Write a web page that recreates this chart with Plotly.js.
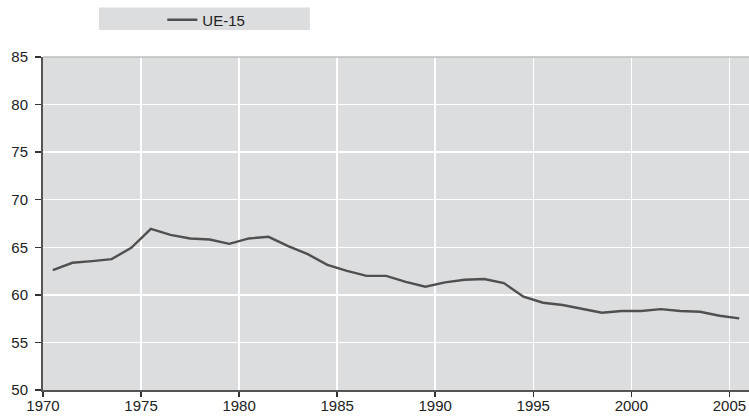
<!DOCTYPE html>
<html>
<head>
<meta charset="utf-8">
<script src="https://cdn.plot.ly/plotly-3.0.1.min.js"></script>
<style>
  html, body { margin: 0; padding: 0; background: #fff; }
  #chart { width: 749px; height: 417px; }
</style>
</head>
<body>
<div id="chart"></div>
<script>
// UE-15 series, one point per year (drawn at mid-year)
const years = [
  1970, 1971, 1972, 1973, 1974, 1975, 1976, 1977, 1978, 1979,
  1980, 1981, 1982, 1983, 1984, 1985, 1986, 1987, 1988, 1989,
  1990, 1991, 1992, 1993, 1994, 1995, 1996, 1997, 1998, 1999,
  2000, 2001, 2002, 2003, 2004, 2005
];
const ue15 = [
  62.6, 63.37, 63.55, 63.76, 64.94, 66.94, 66.31, 65.93, 65.82, 65.36,
  65.93, 66.1, 65.12, 64.28, 63.16, 62.53, 62.0, 62.0, 61.37, 60.85,
  61.31, 61.58, 61.66, 61.24, 59.8, 59.17, 58.93, 58.5, 58.12, 58.3,
  58.3, 58.5, 58.3, 58.22, 57.8, 57.53
];
const seriesName = 'UE-15';
const yTicks = [50, 55, 60, 65, 70, 75, 80, 85];
const xTicks = [1970, 1975, 1980, 1985, 1990, 1995, 2000, 2005];

const fontFamily = '"Liberation Sans", Arial, Helvetica, sans-serif';
const tickFont = { family: fontFamily, size: 15, color: '#222222' };

const trace = {
  type: 'scatter',
  mode: 'lines',
  name: seriesName,
  x: years.map(y => y + 0.5),
  y: ue15,
  line: { color: '#505050', width: 2.4 },
  hoverinfo: 'x+y'
};

const layout = {
  width: 749,
  height: 417,
  margin: { l: 43, r: 0, t: 57, b: 27 },
  paper_bgcolor: '#ffffff',
  plot_bgcolor: '#dcdddf',
  font: { family: fontFamily, size: 15, color: '#222222' },
  showlegend: true,
  legend: {
    orientation: 'h',
    x: 0.169,
    xanchor: 'left',
    y: 1.111,
    yanchor: 'middle',
    bgcolor: 'rgba(0,0,0,0)',
    font: { family: fontFamily, size: 15, color: '#222222' }
  },
  xaxis: {
    range: [1970, 2006],
    tickvals: xTicks,
    ticktext: xTicks.map(String),
    tickfont: tickFont,
    showgrid: true,
    gridcolor: '#ffffff',
    gridwidth: 1.5,
    zeroline: false,
    showline: true,
    linecolor: '#555555',
    linewidth: 2,
    ticks: 'outside',
    ticklen: 5,
    tickwidth: 1.5,
    tickcolor: '#333333',
    ticklabelstandoff: -4,
    fixedrange: true
  },
  yaxis: {
    range: [50, 85],
    tickvals: yTicks,
    ticktext: yTicks.map(String),
    tickfont: tickFont,
    showgrid: true,
    gridcolor: '#ffffff',
    gridwidth: 1.5,
    zeroline: false,
    showline: true,
    linecolor: '#555555',
    linewidth: 2,
    ticks: 'outside',
    ticklen: 6,
    tickwidth: 1.5,
    tickcolor: '#333333',
    ticklabelstandoff: 4,
    fixedrange: true
  },
  shapes: [
    // grey legend band
    {
      type: 'rect', xref: 'paper', yref: 'paper',
      x0: 0.0793, x1: 0.378, y0: 1.081, y1: 1.149,
      fillcolor: '#dcdddf', line: { width: 0 }, layer: 'below'
    },
    // light top border of the plot area
    {
      type: 'line', xref: 'paper', yref: 'paper',
      x0: 0, x1: 1, y0: 1, y1: 1,
      line: { color: '#bdbdbd', width: 1.5 }
    }
  ]
};

Plotly.newPlot('chart', [trace], layout, { displayModeBar: false, staticPlot: true });
</script>
</body>
</html>
